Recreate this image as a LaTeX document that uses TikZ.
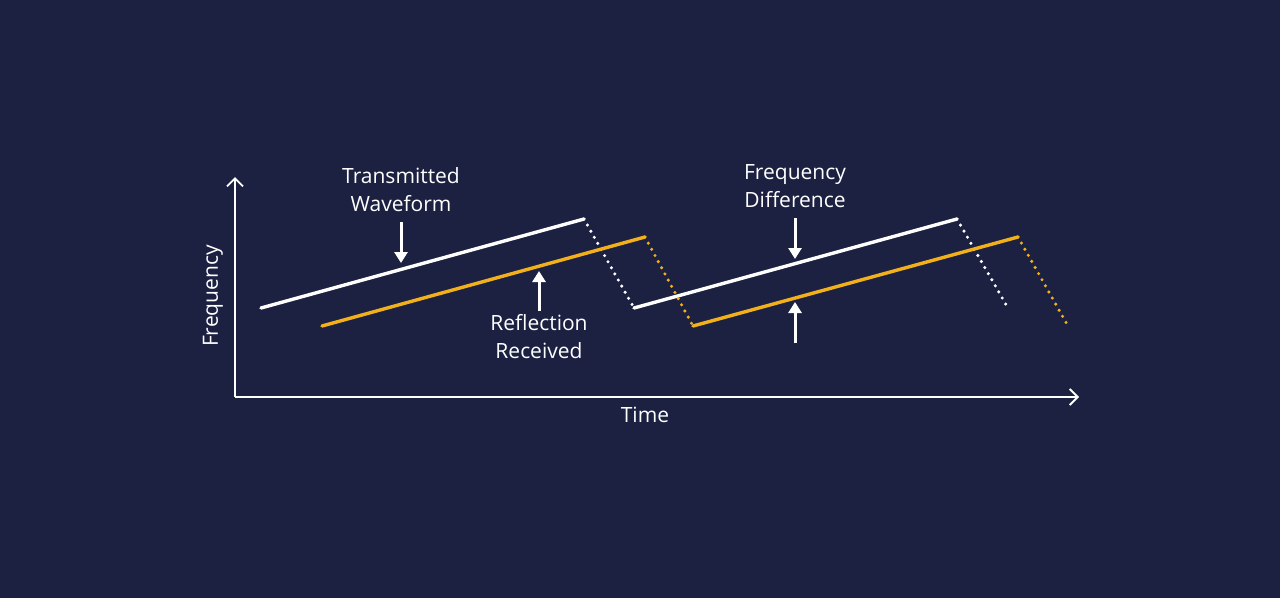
\documentclass[tikz,border=0pt]{standalone}
\usepackage{fontspec}
\setmainfont{Open Sans}
\usetikzlibrary{arrows.meta}
\definecolor{bg}{HTML}{1C2142}
\definecolor{org}{HTML}{F2B11B}
\begin{document}
\begin{tikzpicture}[x=1pt,y=-1pt,
  lbl/.style={text=white,font=\fontsize{21}{28}\selectfont,align=center},
  sig/.style={line width=3.4pt,line cap=round},
  dots/.style={line width=3.4pt,dash pattern=on 0pt off 7pt,line cap=round},
  ax/.style={white,line width=1.8pt,-{Straight Barb[length=8pt,width=16pt]}},
  pt/.style={white,line width=3pt,-{Triangle[length=11pt,width=13pt]}}]
\fill[bg] (0,0) rectangle (1280,598);
\useasboundingbox (0,0) rectangle (1280,598);
\coordinate (o) at (235,397);
\coordinate (ytop) at (235,177);
\coordinate (xend) at (1079,397);
\draw[ax] (o) -- (ytop);
\draw[ax] (o) -- (xend);
\node[lbl] (time) at (645,415) {Time};
\node[lbl,rotate=90] (freq) at (213,296) {Frequency};
% transmitted
\coordinate (w1) at (261,308); \coordinate (w2) at (584,219);
\coordinate (w3) at (634,308); \coordinate (w4) at (957,219);
\coordinate (w5) at (1008,308);
\draw[sig,white] (w1) -- (w2); \draw[dots,white] (w2) -- (w3);
\draw[sig,white] (w3) -- (w4); \draw[dots,white] (w4) -- (w5);
% received
\coordinate (r1) at (322,326); \coordinate (r2) at (645,237);
\coordinate (r3) at (693,326); \coordinate (r4) at (1018,237);
\coordinate (r5) at (1068,326);
\draw[sig,org] (r1) -- (r2); \draw[dots,org] (r2) -- (r3);
\draw[sig,org] (r3) -- (r4); \draw[dots,org] (r4) -- (r5);
% labels
\node[lbl] (tw) at (401,190) {Transmitted\\Waveform};
\node[lbl] (rr) at (539,337) {Reflection\\Received};
\node[lbl] (fd) at (795,186) {Frequency\\Difference};
\coordinate (a1s) at (401,222); \coordinate (a1e) at (401,263);
\coordinate (a2s) at (539,311); \coordinate (a2e) at (539,271);
\coordinate (a3s) at (795,218); \coordinate (a3e) at (795,259);
\coordinate (a4s) at (795,343); \coordinate (a4e) at (795,302);
\draw[pt] (a1s) -- (a1e);
\draw[pt] (a2s) -- (a2e);
\draw[pt] (a3s) -- (a3e);
\draw[pt] (a4s) -- (a4e);
\end{tikzpicture}
\end{document}
